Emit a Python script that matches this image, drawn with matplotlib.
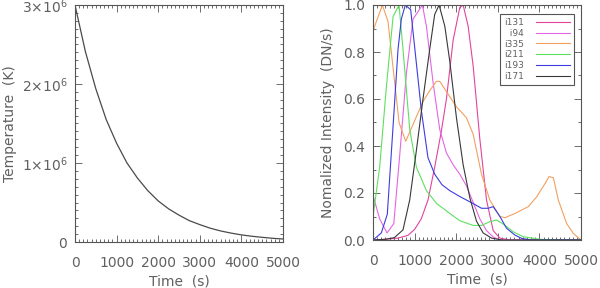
import matplotlib
matplotlib.use('Agg')
import matplotlib.pyplot as plt
from matplotlib.ticker import MultipleLocator, FixedLocator, FixedFormatter
from matplotlib.lines import Line2D

# ---- left panel: temperature decay ----
temp_time = [0, 250, 500, 750, 1000, 1250, 1500, 1750, 2000, 2250, 2500,
             2750, 3000, 3250, 3500, 3750, 4000, 4250, 4500, 4750, 5000]
temp_val = [3.00e6, 2.41e6, 1.94e6, 1.55e6, 1.25e6, 1.00e6, 0.81e6, 0.65e6,
            0.52e6, 0.42e6, 0.34e6, 0.27e6, 0.22e6, 0.175e6, 0.14e6, 0.113e6,
            0.09e6, 0.073e6, 0.059e6, 0.047e6, 0.038e6]
temp_ticks = [0, 1e6, 2e6, 3e6]
temp_ticklabels = ['0', r'1$\times$10$^6$', r'2$\times$10$^6$', r'3$\times$10$^6$']

# ---- right panel: normalized intensities ----
t131 = [0, 300, 600, 841, 1000, 1160, 1322, 1483, 1640, 1765, 1926, 2087, 2167,
        2287, 2408, 2568, 2729, 2889, 3050, 3300, 5000]
i131 = [0.0, 0.003, 0.008, 0.02, 0.045, 0.09, 0.17, 0.31, 0.46, 0.6, 0.85, 0.99, 1.0,
        0.91, 0.74, 0.43, 0.17, 0.04, 0.008, 0.0, 0.0]

t94 = [0, 160, 337, 500, 642, 803, 963, 1188, 1284, 1444, 1605, 1766, 1926, 2087,
       2247, 2408, 2568, 2729, 2889, 3050, 5000]
i94 = [0.19, 0.09, 0.03, 0.07, 0.36, 0.71, 0.94, 1.0, 0.91, 0.67, 0.47, 0.37, 0.32, 0.28,
       0.23, 0.16, 0.09, 0.04, 0.013, 0.0, 0.0]

t335 = [0, 225, 361, 626, 787, 1043, 1204, 1380, 1525, 1605, 1846, 2006, 2247, 2408,
        2608, 2809, 3050, 3173, 3414, 3734, 3935, 4135, 4231, 4335, 4455, 4655, 4815, 5000]
i335 = [0.89, 1.0, 0.93, 0.50, 0.42, 0.525, 0.59, 0.64, 0.675, 0.675, 0.61, 0.567, 0.52, 0.45,
        0.28, 0.17, 0.10, 0.095, 0.113, 0.142, 0.184, 0.24, 0.27, 0.265, 0.17, 0.07, 0.028, 0.0]

t211 = [0, 160, 321, 482, 626, 722, 883, 1043, 1284, 1525, 1846, 2087, 2408, 2608,
        2809, 2970, 3130, 3371, 3612, 4013, 4500, 5000]
i211 = [0.10, 0.31, 0.65, 0.95, 1.0, 0.81, 0.47, 0.31, 0.21, 0.156, 0.113, 0.082, 0.062, 0.062,
        0.078, 0.085, 0.068, 0.035, 0.014, 0.003, 0.0, 0.0]

t193 = [0, 200, 344, 481, 601, 681, 777, 906, 1002, 1163, 1322, 1483, 1659, 1846, 2087,
        2408, 2608, 2769, 2889, 3050, 3210, 3411, 3572, 3800, 5000]
i193 = [0.0, 0.03, 0.11, 0.48, 0.81, 0.94, 1.0, 0.98, 0.82, 0.55, 0.35, 0.28, 0.235, 0.21, 0.185,
        0.155, 0.135, 0.135, 0.142, 0.10, 0.05, 0.021, 0.007, 0.0, 0.0]

t171 = [0, 300, 513, 721, 882, 1042, 1202, 1362, 1483, 1589, 1726, 1846, 2006, 2167,
        2327, 2488, 2648, 2849, 3100, 5000]
i171 = [0.0, 0.003, 0.01, 0.043, 0.17, 0.38, 0.6, 0.81, 0.96, 1.0, 0.91, 0.76, 0.52, 0.32,
        0.18, 0.08, 0.03, 0.008, 0.0, 0.0]

series = [
    ('i131', t131, i131, '#e2449c'),
    ('  i94', t94, i94, '#e466e4'),
    ('i335', t335, i335, '#f2a060'),
    ('i211', t211, i211, '#5ee05e'),
    ('i193', t193, i193, '#3c3ce0'),
    ('i171', t171, i171, '#383838'),
]

grey = '#606060'
plt.rcParams['font.family'] = 'DejaVu Sans'
plt.rcParams['font.size'] = 10

fig = plt.figure(figsize=(6, 2.88), dpi=100)
fig.set_facecolor('w')
ax1 = fig.add_axes([75 / 600, 46 / 288, 208 / 600, 237 / 288])
ax2 = fig.add_axes([373 / 600, 48 / 288, 208 / 600, 235 / 288])


def style(ax):
    for s in ax.spines.values():
        s.set_color('#555555')
        s.set_linewidth(0.8)
    ax.tick_params(which='both', direction='in', top=True, right=True,
                   colors='#555555', labelcolor=grey, width=0.6)
    ax.tick_params(which='major', length=5)
    ax.tick_params(which='minor', length=2.5)
    ax.tick_params(axis='x', which='major', pad=10)
    ax.tick_params(axis='y', which='major', pad=5.5)
    ax.set_xlim(0, 5000)
    ax.xaxis.set_major_locator(MultipleLocator(1000))
    ax.xaxis.set_minor_locator(MultipleLocator(100))
    ax.set_xlabel('Time  (s)', color=grey, labelpad=3)


# left
ax1.plot(temp_time, temp_val, color='#4a4a4a', lw=0.9)
style(ax1)
ax1.set_ylim(0, 3e6)
ax1.yaxis.set_major_locator(FixedLocator(temp_ticks))
ax1.yaxis.set_major_formatter(FixedFormatter(temp_ticklabels))
ax1.yaxis.set_minor_locator(MultipleLocator(1e5))
ax1.set_ylabel('Temperature  (K)', color=grey, labelpad=3)

# right
handles = []
for name, t, v, c in series:
    ax2.plot(t, v, color=c, lw=0.8)
    handles.append(Line2D([], [], color=c, lw=0.8))
style(ax2)
ax2.set_ylim(0, 1.0)
ax2.yaxis.set_major_locator(MultipleLocator(0.2))
ax2.yaxis.set_minor_locator(MultipleLocator(0.1))
ax2.yaxis.set_major_formatter(matplotlib.ticker.FormatStrFormatter('%.1f'))
ax2.set_ylabel('Nomalized Intensity  (DN/s)', color=grey, labelpad=6)

leg = ax2.legend(handles, [s[0] for s in series], loc='upper right',
                 bbox_to_anchor=(0.966, 0.962), markerfirst=False, fontsize=6.5,
                 handlelength=3.8, handletextpad=1.3, labelspacing=0.2,
                 borderpad=0.45, borderaxespad=0, fancybox=False,
                 edgecolor='#555555', framealpha=1)
leg.get_frame().set_linewidth(0.8)
for txt in leg.get_texts():
    txt.set_color(grey)

fig.savefig('out.png', dpi=100)
